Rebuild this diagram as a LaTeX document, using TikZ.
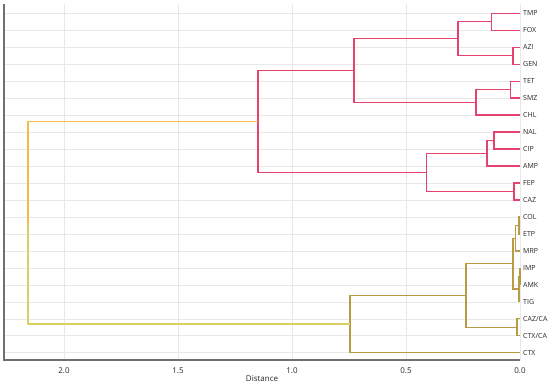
\documentclass[tikz,border=0pt]{standalone}
\usepackage{fontspec}
\setmainfont{Open Sans}
\usetikzlibrary{calc}
\definecolor{cred}{HTML}{E5436E}
\definecolor{colive}{HTML}{B89C45}
\definecolor{corange}{HTML}{F5BA4A}
\definecolor{cyellow}{HTML}{DDD060}
\definecolor{cgrid}{HTML}{E8E8E8}
\definecolor{cspine}{HTML}{707070}
\newcommand\dlink[4]{\draw[#1] (#2) -- (#2 -| #4) -- (#3 -| #4) -- (#3);}
\newcommand\mergept[4]{\coordinate (#1y) at ($(#2)!0.5!(#3)$); \coordinate (#1) at (#1y -| #4);}
\begin{document}
\begin{tikzpicture}[x=1pt,y=-1pt,
  link/.style={line width=1.3pt},
  redl/.style={link,cred},
  olvl/.style={link,colive},
  grid/.style={cgrid,line width=0.5pt},
  leaflab/.style={anchor=west,font=\fontsize{7}{8}\selectfont,text=black!85,inner sep=0pt},
  ticklab/.style={font=\fontsize{8}{9}\selectfont,text=black!85,inner sep=0pt}]
\useasboundingbox (0,0) rectangle (550,385);
% leaves
\foreach \n/\lab [count=\i from 0] in {TMP/TMP,FOX/FOX,AZI/AZI,GEN/GEN,TET/TET,SMZ/SMZ,CHL/CHL,NAL/NAL,CIP/CIP,AMP/AMP,FEP/FEP,CAZ/CAZ,COL/COL,ETP/ETP,MRP/MRP,IMP/IMP,AMK/AMK,TIG/TIG,CAZCA/CAZ\slash CA,CTXCA/CTX\slash CA,CTX/CTX}{
  \coordinate (\n) at (520,{13.3+16.97*\i});
  \draw[grid] (4,{13.3+16.97*\i}) -- (\n);
  \node[leaflab] (l\n) at (523,{13.3+16.97*\i}) {\lab};
}
% vertical grid and ticks
\foreach \xx/\t/\nm in {64/2.0/a,178/1.5/b,292/1.0/c,406/0.5/d,520/0.0/e}{
  \coordinate (g\nm) at (\xx,360);
  \draw[grid] (\xx,4) -- (g\nm);
  \node[ticklab] (t\nm) at (\xx,370.5) {\t};
}
\node[ticklab] (xlabel) at (262,378.5) {Distance};
% merge x positions
\coordinate (m1) at (491.5,0);
\coordinate (m2) at (513,0);
\coordinate (m3) at (458,0);
\coordinate (m4) at (510.5,0);
\coordinate (m5) at (476,0);
\coordinate (m6) at (354,0);
\coordinate (m7) at (494,0);
\coordinate (m8) at (487,0);
\coordinate (m9) at (514,0);
\coordinate (m10) at (426.5,0);
\coordinate (m11) at (258,0);
\coordinate (o1) at (519,0);
\coordinate (o2) at (515.7,0);
\coordinate (o3) at (520,0);
\coordinate (o4) at (519,0);
\coordinate (o5) at (513,0);
\coordinate (o6) at (517,0);
\coordinate (o7) at (466,0);
\coordinate (o8) at (350,0);
\coordinate (r) at (28,0);
% merge points
\mergept{c1}{TMP}{FOX}{m1}
\mergept{c2}{AZI}{GEN}{m2}
\mergept{c3}{c1}{c2}{m3}
\mergept{c4}{TET}{SMZ}{m4}
\mergept{c5}{c4}{CHL}{m5}
\mergept{c6}{c3}{c5}{m6}
\mergept{c7}{NAL}{CIP}{m7}
\mergept{c8}{c7}{AMP}{m8}
\mergept{c9}{FEP}{CAZ}{m9}
\mergept{c10}{c8}{c9}{m10}
\mergept{c11}{c6}{c10}{m11}
\mergept{d1}{COL}{ETP}{o1}
\mergept{d2}{d1}{MRP}{o2}
\mergept{d3}{IMP}{AMK}{o3}
\mergept{d4}{d3}{TIG}{o4}
\mergept{d5}{d2}{d4}{o5}
\mergept{d6}{CAZCA}{CTXCA}{o6}
\mergept{d7}{d5}{d6}{o7}
\mergept{d8}{d7}{CTX}{o8}
\mergept{rr}{c11}{d8}{r}
% red cluster
\dlink{redl}{TMP}{FOX}{c1}
\dlink{redl}{AZI}{GEN}{c2}
\dlink{redl}{c1}{c2}{c3}
\dlink{redl}{TET}{SMZ}{c4}
\dlink{redl}{c4}{CHL}{c5}
\dlink{redl}{c3}{c5}{c6}
\dlink{redl}{NAL}{CIP}{c7}
\dlink{redl}{c7}{AMP}{c8}
\dlink{redl}{FEP}{CAZ}{c9}
\dlink{redl}{c8}{c9}{c10}
\dlink{redl}{c6}{c10}{c11}
% olive cluster
\dlink{olvl}{COL}{ETP}{d1}
\dlink{olvl}{d1}{MRP}{d2}
\dlink{olvl}{IMP}{AMK}{d3}
\dlink{olvl}{d3}{TIG}{d4}
\dlink{olvl}{d2}{d4}{d5}
\dlink{olvl}{CAZCA}{CTXCA}{d6}
\dlink{olvl}{d5}{d6}{d7}
\dlink{olvl}{d7}{CTX}{d8}
% root
\draw[link,corange] (c11) -- (c11 -| rr) -- (rr);
\draw[link,cyellow] (rr) -- (d8 -| rr) -- (d8);
% spines
\coordinate (sp0) at (4,4);
\coordinate (sp1) at (4,360);
\coordinate (sp2) at (520,360);
\draw[cspine,line width=1.3pt] (sp0) -- (sp1) -- (sp2);
\end{tikzpicture}
\end{document}
